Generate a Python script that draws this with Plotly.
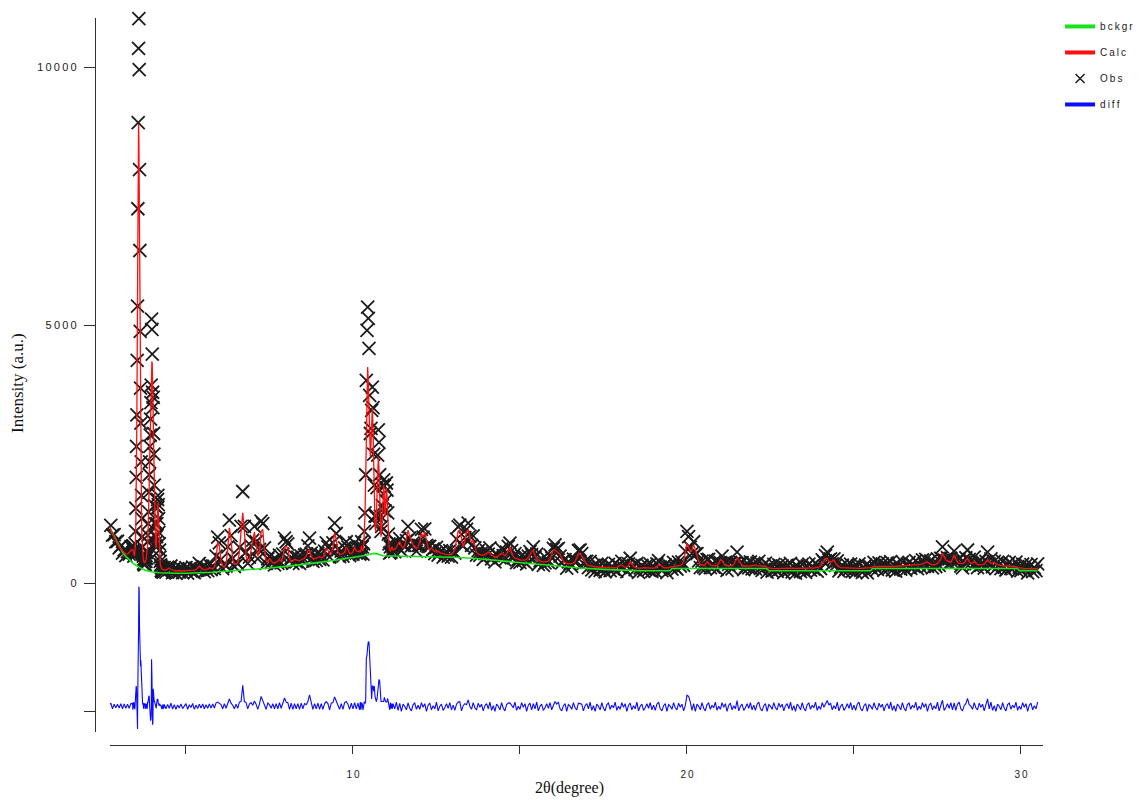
import numpy as np
import plotly.graph_objects as go

# ---------------------------------------------------------------
# Powder pattern (Rietveld fit): scan grids of the recorded segments
# (start, stop, step in 0.01 deg units)
# ---------------------------------------------------------------
tt_a = np.arange(270, 340, 5) / 100      # 2.70 - 3.35
tt_b = np.arange(340, 435, 1) / 100      # 3.40 - 4.34
tt_c = np.arange(435, 1020, 5) / 100     # 4.35 - 10.15
tt_d = np.arange(1020, 1120, 2) / 100    # 10.20 - 11.18
tt_e = np.arange(1120, 3055, 5) / 100    # 11.20 - 30.50

# observed / calculated intensities, segment A
obs_a = [1140, 1120, 930, 940, 800, 810, 680, 720, 580, 640, 530, 610, 560, 700]
calc_a = [1110, 1050, 970, 890, 820, 760, 705, 660, 620, 585, 560, 560, 590, 640]

# segment B (two strongest reflections)
obs_b = [700, 590, 720, 640, 520, 610, 580, 540, 760, 1000,
         1450, 2050, 2650, 3260, 4320, 5370, 7260, 8930, 10370, 10950,
         9960, 8020, 6450, 4880, 3780, 3100, 2350, 1700, 1250, 900,
         700, 560, 520, 380, 470, 350, 440, 420, 360, 480,
         420, 530, 480, 620, 590, 800, 930, 1150, 1380, 1760,
         2100, 2350, 2650, 2870, 3180, 3500, 3840, 5120, 4920, 4440,
         3700, 3400, 3600, 2900, 2500, 1900, 1500, 1150, 900, 780,
         720, 690, 900, 1150, 1450, 1620, 1700, 1520, 1250, 980,
         760, 640, 500, 420, 350, 330, 240, 300, 220, 280,
         230, 300, 210, 270, 240]
calc_b = [640, 650, 630, 590, 550, 530, 540, 590, 680, 850,
          1200, 1650, 2300, 3200, 4400, 5800, 6800, 8200, 8900, 8620,
          7700, 6500, 5200, 4000, 3000, 2200, 1650, 1250, 950, 750,
          620, 520, 460, 420, 400, 390, 390, 395, 405, 420,
          440, 470, 510, 560, 630, 720, 850, 1020, 1250, 1550,
          1900, 2300, 2700, 3100, 3450, 3750, 4000, 4200, 4300, 4250,
          4050, 3700, 3250, 2750, 2250, 1800, 1400, 1080, 850, 720,
          680, 720, 850, 1050, 1300, 1500, 1560, 1450, 1200, 950,
          740, 580, 460, 380, 330, 300, 285, 275, 268, 262,
          258, 255, 255, 258, 262]

# segment C
obs_c = [300, 210, 310, 260, 330, 200, 280, 190, 270, 210,
         290, 200, 260, 300, 190, 280, 230, 310, 200, 290,
         250, 380, 270, 320, 220, 300, 240, 350, 260, 330,
         280, 520, 890, 780, 460, 280, 370, 330, 700, 1220,
         920, 480, 320, 410, 370, 690, 1100, 1775, 1100, 600,
         380, 500, 720, 830, 1100, 800, 470, 650, 1200, 1150,
         680, 380, 470, 520, 400, 450, 350, 460, 380, 540,
         390, 560, 870, 800, 760, 430, 490, 380, 520, 410,
         500, 380, 520, 430, 540, 560, 720, 870, 580, 420,
         530, 440, 570, 460, 550, 450, 620, 780, 700, 500,
         630, 780, 1160, 960, 650, 510, 620, 520, 680, 800,
         700, 530, 640, 560, 780, 580, 680]
calc_c = [255, 250, 265, 290, 262, 245, 240, 238, 236, 235,
          235, 236, 238, 240, 240, 242, 244, 246, 250, 258,
          285, 330, 295, 265, 260, 262, 270, 295, 288, 275,
          305, 450, 800, 720, 420, 320, 310, 360, 650, 1070,
          850, 450, 360, 360, 400, 600, 1000, 1360, 1000, 520,
          420, 450, 640, 800, 990, 750, 520, 600, 1000, 1040,
          620, 430, 400, 480, 430, 390, 390, 400, 420, 460,
          420, 500, 700, 710, 680, 480, 420, 430, 460, 450,
          440, 430, 450, 470, 480, 520, 620, 640, 520, 470,
          470, 480, 500, 510, 490, 500, 560, 680, 640, 560,
          560, 700, 970, 850, 600, 560, 560, 570, 600, 700,
          650, 580, 570, 600, 700, 620, 610]

# segment D (cluster near 10.5 deg)
obs_d = [560, 690, 580, 800, 700, 560, 760, 1000, 1360, 2100,
         3930, 4900, 5350, 5135, 4550, 3640, 2900, 3000, 3350, 3800,
         3400, 2500, 1900, 1300, 1150, 1300, 1850, 2480, 2970, 2730,
         2100, 1300, 1000, 1100, 1500, 1900, 2000, 1880, 1400, 1600,
         1940, 1800, 1360, 950, 760, 580, 700, 600, 760, 640]
calc_d = [620, 600, 640, 720, 650, 620, 700, 900, 1300, 2000,
          3000, 3900, 4190, 3870, 3300, 2700, 2450, 2700, 3200, 3400,
          3000, 2200, 1500, 1100, 1000, 1200, 1700, 2200, 2440, 2200,
          1600, 1100, 900, 1000, 1400, 1800, 1900, 1700, 1300, 1500,
          1850, 1700, 1200, 850, 700, 640, 620, 640, 700, 680]

# segment E (11.20 - 30.50 deg), one row per degree
obs_e = [700, 610, 780, 690, 860, 630, 730, 730, 820, 1100, 870, 720, 780, 760, 620, 730,
         730, 1040, 890, 1050, 730, 710, 710, 620, 660, 570, 690, 540, 600, 625, 500, 540, 615, 520, 628, 500,
         620, 580, 850, 1090, 1124, 740, 720, 880, 1040, 1160, 910, 730, 913, 680, 540, 630, 535, 590, 460, 570,
         630, 560, 680, 470, 530, 410, 550, 530, 490, 660, 530, 450, 600, 710, 775, 630, 490, 570, 395, 465,
         400, 525, 430, 505, 370, 520, 610, 550, 700, 500, 560, 360, 430, 465, 340, 390, 475, 400, 540, 490,
         670, 740, 650, 670, 520, 390, 440, 455, 290, 412, 380, 322, 465, 400, 420, 630, 640, 570, 380, 420,
         420, 300, 420, 255, 340, 225, 360, 318, 245, 382, 270, 218, 335, 362, 240, 320, 270, 382, 230, 330,
         300, 420, 305, 365, 220, 370, 480, 320, 340, 260, 380, 208, 295, 340, 230, 275, 350, 255, 365, 228,
         320, 225, 370, 435, 310, 240, 320, 352, 200, 335, 320, 270, 402, 305, 270, 405, 330, 410, 340, 620,
         1000, 900, 690, 570, 800, 560, 570, 430, 300, 425, 310, 280, 453, 460, 300, 365, 310, 422, 270, 390,
         396, 520, 370, 405, 245, 362, 400, 275, 380, 380, 600, 360, 390, 395, 260, 306, 385, 296, 410, 275,
         370, 275, 385, 418, 285, 247, 350, 385, 210, 330, 295, 233, 360, 262, 225, 352, 270, 330, 200, 302,
         345, 248, 380, 218, 305, 192, 330, 290, 220, 362, 255, 208, 330, 365, 250, 325, 270, 385, 230, 320,
         280, 450, 410, 530, 600, 450, 470, 370, 466, 340, 430, 235, 310, 347, 225, 272, 350, 258, 365, 225,
         315, 212, 330, 372, 245, 208, 310, 348, 195, 330, 310, 265, 400, 302, 265, 392, 310, 372, 245, 348,
         390, 288, 415, 252, 340, 232, 375, 338, 270, 408, 295, 248, 370, 402, 285, 368, 320, 435, 280, 365,
         310, 450, 370, 460, 323, 410, 430, 292, 370, 320, 470, 340, 480, 700, 450, 430, 490, 380, 480, 400,
         620, 400, 450, 470, 330, 295, 410, 490, 640, 460, 390, 340, 500, 370, 300, 422, 340, 405, 290, 420,
         600, 370, 470, 315, 420, 280, 400, 355, 280, 418, 305, 252, 370, 400, 280, 358, 305, 405, 230, 302,
         240, 368, 275, 345, 195, 315, 355, 222, 300, 240, 370]
calc_e = [640, 650, 690, 760, 795, 720, 680, 720, 880, 1027, 900, 800, 740, 690, 670, 700,
          780, 960, 900, 990, 820, 680, 640, 680, 640, 610, 600, 620, 590, 575, 570, 560, 555, 550, 548, 560,
          590, 650, 800, 1000, 1027, 820, 700, 820, 1000, 1027, 900, 780, 833, 700, 600, 560, 545, 540, 540, 550,
          570, 600, 590, 540, 510, 500, 500, 520, 550, 580, 560, 530, 560, 640, 700, 600, 510, 480, 465, 455,
          450, 445, 440, 445, 460, 490, 540, 610, 640, 540, 470, 440, 420, 415, 410, 410, 415, 430, 460, 550,
          640, 640, 600, 580, 560, 470, 420, 395, 380, 372, 370, 372, 385, 420, 480, 560, 580, 520, 460, 400,
          360, 340, 330, 325, 320, 315, 310, 308, 305, 302, 300, 298, 295, 292, 290, 290, 290, 292, 300, 320,
          350, 340, 315, 305, 310, 340, 410, 380, 320, 300, 290, 288, 285, 290, 300, 295, 290, 285, 285, 288,
          290, 295, 320, 345, 350, 320, 300, 292, 290, 295, 310, 320, 322, 325, 330, 335, 340, 360, 420, 600,
          775, 700, 600, 640, 740, 650, 520, 420, 360, 345, 340, 360, 413, 390, 350, 335, 330, 332, 340, 380,
          446, 440, 380, 345, 335, 332, 330, 335, 360, 420, 480, 440, 380, 345, 330, 326, 325, 326, 330, 335,
          340, 345, 335, 328, 325, 327, 330, 325, 300, 290, 285, 283, 280, 282, 285, 282, 280, 280, 280, 282,
          285, 288, 290, 288, 285, 282, 280, 280, 280, 282, 285, 288, 290, 295, 300, 295, 290, 295, 300, 310,
          330, 370, 420, 470, 480, 420, 400, 430, 446, 380, 340, 315, 300, 297, 295, 292, 290, 288, 285, 285,
          285, 282, 280, 282, 285, 288, 290, 288, 285, 290, 300, 315, 320, 322, 325, 322, 320, 322, 325, 328,
          330, 328, 325, 322, 320, 322, 325, 328, 330, 328, 325, 328, 330, 332, 335, 338, 340, 345, 350, 355,
          360, 370, 380, 400, 413, 380, 360, 352, 350, 360, 380, 420, 470, 575, 520, 450, 430, 410, 400, 460,
          543, 470, 400, 380, 370, 375, 390, 430, 478, 420, 380, 390, 420, 390, 360, 352, 350, 355, 370, 400,
          446, 410, 380, 385, 400, 370, 350, 345, 340, 338, 335, 332, 330, 330, 330, 328, 325, 315, 300, 292,
          290, 288, 285, 285, 285, 285, 285, 282, 280, 280, 280]

# refined background
bck_tt = [2.70, 2.75, 2.80, 2.85, 2.90, 2.95, 3.00, 3.10, 3.20, 3.30, 3.40,
          3.50, 3.60, 3.70, 3.80, 3.90, 4.00, 4.20, 4.40, 4.70, 5.00, 5.40,
          5.80, 6.20, 6.60, 7.00, 7.50, 8.00, 8.50, 9.00, 9.50, 10.00, 10.20,
          10.40, 10.55, 10.65, 10.75, 10.90, 11.20, 12.00, 13.00, 13.60,
          14.00, 15.00, 16.00, 16.80, 17.50, 18.50, 19.50, 19.55, 22.40,
          22.45, 25.50, 25.55, 29.90, 29.95, 30.50]
bck_y = [1090, 1030, 960, 900, 840, 770, 700, 600, 515, 445, 390,
         345, 305, 270, 245, 225, 212, 200, 193, 190, 190, 195,
         210, 228, 245, 262, 290, 322, 358, 400, 445, 490, 515,
         540, 565, 575, 560, 530, 525, 520, 500, 480,
         455, 395, 330, 290, 265, 240, 238, 280, 280,
         238, 238, 282, 282, 240, 240]

DIFF_OFFSET = -2400   # difference curve is drawn below the pattern

tt = np.concatenate([tt_a, tt_b, tt_c, tt_d, tt_e])
y_obs = np.concatenate([obs_a, obs_b, obs_c, obs_d, obs_e]).astype(float)
y_calc = np.concatenate([calc_a, calc_b, calc_c, calc_d, calc_e]).astype(float)
assert len(tt) == len(y_obs) == len(y_calc), (len(tt), len(y_obs), len(y_calc))
y_diff = y_obs - y_calc

x_ticks = [5, 10, 15, 20, 25, 30]
x_tick_text = ["", "10", "", "20", "", "30"]
y_ticks = [-2500, 0, 5000, 10000]
y_tick_text = ["", "0", "5000", "10000"]

THIN = "\u2009"


def spaced(s):
    return THIN.join(s)


SANS = "Liberation Sans, Arial, sans-serif"
SERIF = "Liberation Serif, Times New Roman, serif"
AXIS_C = "#303030"
OBS_C = "#1c1c1c"

fig = go.Figure()

# observed points
fig.add_trace(go.Scatter(
    x=tt, y=y_obs, mode="markers", name="Obs", showlegend=False,
    cliponaxis=False,
    marker=dict(symbol="x-thin", size=13, line=dict(width=1.8, color=OBS_C)),
))
# background
fig.add_trace(go.Scatter(
    x=bck_tt, y=bck_y, mode="lines", name="bckgr", showlegend=False,
    line=dict(color="#18e418", width=1.6),
))
# calculated profile
fig.add_trace(go.Scatter(
    x=tt, y=y_calc, mode="lines", name="Calc", showlegend=False,
    line=dict(color="#ff0f0f", width=1.3),
))
# difference curve
fig.add_trace(go.Scatter(
    x=tt, y=y_diff + DIFF_OFFSET, mode="lines", name="diff", showlegend=False,
    line=dict(color="#0b0bff", width=1.1),
))

# legend entries (thick samples)
legend_items = [
    ("bckgr", dict(mode="lines", line=dict(color="#18e418", width=4))),
    ("Calc", dict(mode="lines", line=dict(color="#ff0f0f", width=4))),
    ("Obs", dict(mode="markers", marker=dict(symbol="x-thin", size=9,
                                              line=dict(width=1.5, color=OBS_C)))),
    ("diff", dict(mode="lines", line=dict(color="#0b0bff", width=4))),
]
for name, style in legend_items:
    fig.add_trace(go.Scatter(x=[None], y=[None], name=spaced(name),
                             legendgroup=name, showlegend=True, **style))

fig.update_layout(
    width=1142, height=800,
    margin=dict(l=95, r=99, t=18, b=55, autoexpand=False),
    paper_bgcolor="white", plot_bgcolor="white",
    showlegend=True,
    legend=dict(x=1.018, y=1.0083, xanchor="left", yanchor="top",
                font=dict(family=SANS, size=10, color="#222222"),
                bgcolor="rgba(0,0,0,0)", tracegroupgap=7,
                traceorder="grouped", itemwidth=30),
    xaxis=dict(domain=[0.0158, 1], range=[2.725, 30.66], anchor="free", position=0,
               showline=True, linecolor=AXIS_C, linewidth=1.3,
               ticks="outside", ticklen=8, tickwidth=1.3, tickcolor=AXIS_C,
               tickvals=x_ticks, ticktext=[spaced(t) for t in x_tick_text],
               tickfont=dict(family=SANS, size=10, color="#222222"),
               ticklabelstandoff=12,
               showgrid=False, zeroline=False),
    yaxis=dict(domain=[0.0179, 1], range=[-2890, 10960], anchor="free", position=0,
               showline=True, linecolor=AXIS_C, linewidth=1.3,
               ticks="outside", ticklen=11, tickwidth=1.3, tickcolor=AXIS_C,
               tickvals=y_ticks, ticktext=[spaced(t) for t in y_tick_text],
               tickfont=dict(family=SANS, size=11, color="#222222"),
               ticklabelstandoff=5,
               showgrid=False, zeroline=False),
    annotations=[
        dict(text="Intensity (a.u.)", xref="paper", yref="paper",
             x=-0.0812, y=0.498, xanchor="center", yanchor="middle",
             textangle=-90, showarrow=False,
             font=dict(family=SERIF, size=17, color="#111111")),
        dict(text="2\u03b8(degree)", xref="paper", yref="paper",
             x=0.501, y=-0.0591, xanchor="center", yanchor="middle",
             showarrow=False,
             font=dict(family=SERIF, size=16, color="#111111")),
    ],
)

fig.write_html("out.html")
